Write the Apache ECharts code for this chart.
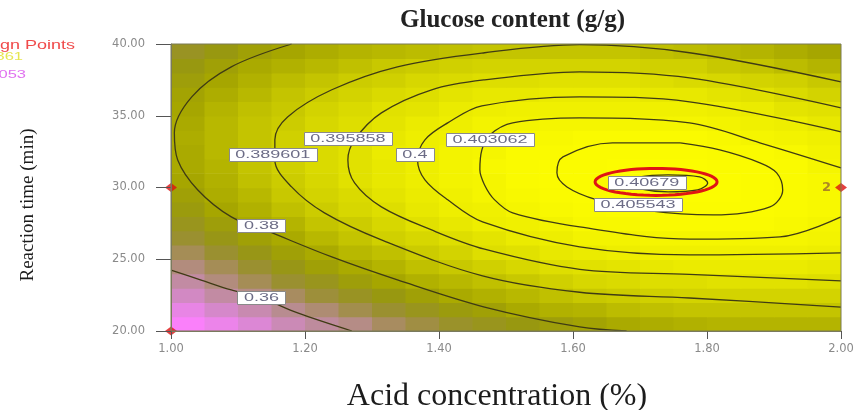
<html>
<head>
<meta charset="utf-8">
<script src="https://cdn.jsdelivr.net/npm/echarts@6/dist/echarts.min.js"></script>
<style>
  html, body { margin: 0; padding: 0; background: #fff; }
</style>
</head>
<body>
<div id="main" style="width: 857px;height:410px;"></div>
<script type="text/javascript">
// cell centres of the response grid
var acidConc = [1.025, 1.075, 1.125, 1.175, 1.225, 1.275, 1.325, 1.375, 1.425, 1.475,
                1.525, 1.575, 1.625, 1.675, 1.725, 1.775, 1.825, 1.875, 1.925, 1.975];
var reactTime = [20.5, 21.5, 22.5, 23.5, 24.5, 25.5, 26.5, 27.5, 28.5, 29.5,
                 30.5, 31.5, 32.5, 33.5, 34.5, 35.5, 36.5, 37.5, 38.5, 39.5];

// glucose content (g/g), one row per reaction time (bottom -> top)
var glucose = [
  [0.340,0.345,0.349,0.354,0.358,0.361,0.365,0.368,0.371,0.373,0.375,0.377,0.379,0.381,0.382,0.383,0.384,0.384,0.384,0.384],
  [0.346,0.351,0.355,0.360,0.363,0.367,0.370,0.373,0.376,0.378,0.381,0.383,0.384,0.386,0.387,0.388,0.388,0.388,0.388,0.388],
  [0.352,0.357,0.361,0.365,0.369,0.372,0.375,0.378,0.381,0.383,0.385,0.387,0.389,0.390,0.391,0.392,0.392,0.392,0.392,0.392],
  [0.357,0.362,0.366,0.370,0.373,0.377,0.380,0.383,0.385,0.387,0.389,0.391,0.393,0.394,0.395,0.395,0.396,0.396,0.396,0.395],
  [0.362,0.366,0.370,0.374,0.378,0.381,0.384,0.387,0.389,0.391,0.393,0.395,0.396,0.397,0.398,0.399,0.399,0.399,0.399,0.398],
  [0.366,0.370,0.374,0.378,0.381,0.385,0.387,0.390,0.392,0.395,0.396,0.398,0.399,0.400,0.401,0.401,0.401,0.401,0.401,0.400],
  [0.370,0.374,0.378,0.381,0.385,0.388,0.391,0.393,0.395,0.397,0.399,0.400,0.402,0.402,0.403,0.403,0.403,0.403,0.403,0.402],
  [0.373,0.377,0.381,0.384,0.388,0.390,0.393,0.396,0.398,0.400,0.401,0.402,0.404,0.404,0.405,0.405,0.405,0.405,0.404,0.403],
  [0.376,0.380,0.383,0.387,0.390,0.393,0.395,0.398,0.400,0.401,0.403,0.404,0.405,0.406,0.406,0.406,0.406,0.406,0.405,0.404],
  [0.378,0.382,0.385,0.389,0.392,0.394,0.397,0.399,0.401,0.403,0.404,0.405,0.406,0.407,0.407,0.407,0.407,0.406,0.405,0.404],
  [0.380,0.383,0.387,0.390,0.393,0.396,0.398,0.400,0.402,0.403,0.405,0.406,0.406,0.407,0.407,0.407,0.407,0.406,0.405,0.404],
  [0.381,0.384,0.388,0.391,0.394,0.396,0.398,0.400,0.402,0.404,0.405,0.406,0.406,0.407,0.407,0.407,0.406,0.406,0.405,0.403],
  [0.381,0.385,0.388,0.391,0.394,0.396,0.399,0.400,0.402,0.403,0.405,0.405,0.406,0.406,0.406,0.406,0.405,0.405,0.404,0.402],
  [0.382,0.385,0.388,0.391,0.394,0.396,0.398,0.400,0.401,0.403,0.404,0.404,0.405,0.405,0.405,0.405,0.404,0.403,0.402,0.401],
  [0.381,0.385,0.388,0.390,0.393,0.395,0.397,0.399,0.400,0.402,0.402,0.403,0.403,0.403,0.403,0.403,0.402,0.401,0.400,0.398],
  [0.380,0.384,0.387,0.389,0.392,0.394,0.396,0.397,0.399,0.400,0.401,0.401,0.401,0.401,0.401,0.401,0.400,0.399,0.397,0.396],
  [0.379,0.382,0.385,0.388,0.390,0.392,0.394,0.395,0.397,0.398,0.398,0.399,0.399,0.399,0.398,0.398,0.397,0.396,0.394,0.392],
  [0.377,0.380,0.383,0.386,0.388,0.390,0.391,0.393,0.394,0.395,0.395,0.396,0.396,0.396,0.395,0.394,0.393,0.392,0.391,0.389],
  [0.375,0.378,0.381,0.383,0.385,0.387,0.389,0.390,0.391,0.392,0.392,0.392,0.392,0.392,0.391,0.391,0.389,0.388,0.386,0.384],
  [0.372,0.375,0.378,0.380,0.382,0.384,0.385,0.386,0.387,0.388,0.388,0.388,0.388,0.388,0.387,0.386,0.385,0.384,0.382,0.380]
];

// contour lines, [acid %, time min]
var c0360 = [[1.0,24.25],[1.045,23.55],[1.09,22.86],[1.135,22.3],[1.189,21.26],[1.27,20.0]];
var c0380 = [[1.18,40.0],[1.09,38.41],[1.031,36.32],[1.005,33.81],[1.01,31.92],[1.04,29.83],[1.09,27.95],
             [1.14,27.04],[1.24,25.16],[1.338,23.56],[1.468,21.67],[1.61,20.28],[1.68,20.0]];
var c0389 = [[2.0,37.36],[1.774,39.39],[1.61,39.95],[1.468,39.39],[1.338,38.41],[1.24,36.81],[1.174,34.92],
             [1.155,33.32],[1.155,31.92],[1.18,30.04],[1.229,28.23],[1.314,26.35],[1.465,23.84],
             [1.61,22.7],[1.774,22.3],[2.0,21.67]];
var c0396 = [[2.0,35.55],[1.774,37.64],[1.61,38.06],[1.468,37.5],[1.389,36.81],[1.314,35.2],[1.274,33.32],
             [1.264,31.92],[1.274,30.32],[1.314,28.65],[1.389,27.04],[1.468,25.7],[1.61,24.3],
             [1.774,23.95],[2.0,23.5]];
var c0400 = [[2.0,33.88],[1.774,35.97],[1.61,36.32],[1.464,35.69],[1.413,34.5],[1.379,33.32],[1.368,31.92],
             [1.379,30.53],[1.413,29.14],[1.465,27.6],[1.61,25.86],[1.774,25.3],[2.0,25.45]];
var c0403 = [[2.0,31.37],[1.88,33.1],[1.774,34.5],[1.61,34.85],[1.51,34.5],[1.476,33.67],[1.464,32.62],
             [1.461,31.23],[1.468,30.18],[1.483,29.14],[1.51,28.23],[1.61,27.25],[1.774,26.4],
             [1.909,26.56],[2.0,27.95]];
var c0405 = [[1.76,33.11],[1.659,33.11],[1.585,32.13],[1.576,31.02],[1.591,30.04],[1.636,29.14],[1.715,28.37],
             [1.809,28.09],[1.894,28.65],[1.913,29.83],[1.904,31.02],[1.879,31.72],[1.819,32.62],[1.76,33.11]];
var c0407 = [[1.682,30.32],[1.700,30.74],[1.742,30.88],[1.789,30.74],[1.801,30.32],[1.786,29.83],
             [1.742,29.69],[1.700,29.90],[1.682,30.32]];
var contours = [c0360, c0380, c0389, c0396, c0400, c0403, c0405, c0407];

// contour labels
var labelTexts = ['0.36', '0.38', '0.389601', '0.395858', '0.4', '0.403062', '0.405543', '0.40679'];
var labelPos = [[1.135,22.30],[1.135,27.32],[1.152,32.27],[1.264,33.39],[1.364,32.27],[1.476,33.32],[1.697,28.79],[1.710,30.32]];

// design points
var designAcid = [1.0, 1.0, 2.0];
var designTime = [30, 20, 30];
var designCount = [1, 1, 2];

// red ring drawn round the optimum: centre x, centre y, radius x, radius y
var optimumRing = [1.724, 30.39, 0.091, 0.94];

var cellW = 0.05, cellH = 1;
var cells = [];
for (var j = 0; j < reactTime.length; j++) {
  for (var k = 0; k < acidConc.length; k++) {
    cells.push([acidConc[k], reactTime[j], glucose[j][k]]);
  }
}

var myChart = echarts.init(document.getElementById('main'));

var series = [{
  type: 'custom',
  clip: true,
  encode: { x: 0, y: 1 },
  data: cells,
  z: 1,
  renderItem: function (params, api) {
    var x = api.value(0), y = api.value(1);
    var p0 = api.coord([x - cellW / 2, y + cellH / 2]);
    var p1 = api.coord([x + cellW / 2, y - cellH / 2]);
    return {
      type: 'rect',
      shape: { x: p0[0], y: p0[1], width: p1[0] - p0[0] + 0.7, height: p1[1] - p0[1] + 0.7 },
      style: { fill: api.visual('color') }
    };
  }
}];

contours.forEach(function (pts) {
  series.push({
    type: 'line',
    data: pts,
    smooth: 0.35,
    symbol: 'none',
    z: 3,
    lineStyle: { color: '#3f3b14', width: 1.3 }
  });
});

series.push({
  type: 'custom',
  encode: { x: 0, y: 1 },
  data: [optimumRing],
  z: 4,
  renderItem: function (params, api) {
    var c = api.coord([api.value(0), api.value(1)]);
    var rx = api.size([api.value(2), 0])[0];
    var ry = api.size([0, api.value(3)])[1];
    var pts = [];
    for (var i = 0; i < 60; i++) {
      var a = i / 60 * Math.PI * 2;
      pts.push([c[0] + rx * Math.cos(a), c[1] + ry * Math.sin(a)]);
    }
    return { type: 'polygon', shape: { points: pts }, style: { fill: 'none', stroke: '#e01414', lineWidth: 3 } };
  }
});

series.push({
  type: 'custom',
  encode: { x: 0, y: 1 },
  data: labelPos,
  z: 5,
  renderItem: function (params, api) {
    var c = api.coord([api.value(0), api.value(1)]);
    var txt = labelTexts[params.dataIndex];
    var w = txt.length * 10 + 8;
    return {
      type: 'group',
      children: [{
        type: 'rect',
        shape: { x: Math.round(c[0] - w / 2) + 0.5, y: Math.round(c[1] - 6.5) + 0.5, width: w, height: 13 },
        style: { fill: '#ffffff', stroke: '#8a8a8a', lineWidth: 1 }
      }, {
        type: 'text',
        x: c[0], y: c[1] + 0.5,
        scaleX: 1.8,
        style: { text: txt, fontSize: 10, fontFamily: 'Liberation Sans', fill: '#6c6c86', align: 'center', verticalAlign: 'middle' }
      }]
    };
  }
});

series.push({
  type: 'scatter',
  clip: false,
  z: 6,
  symbol: 'diamond',
  symbolSize: [12, 9],
  itemStyle: { color: '#dd1111' },
  data: designAcid.map(function (a, i) { return [a, designTime[i], designCount[i]]; }),
  label: {
    show: true,
    position: 'left',
    distance: 4,
    color: '#9a6a2a',
    fontSize: 13,
    fontWeight: 'bold',
    fontFamily: 'DejaVu Sans',
    formatter: function (p) { return p.value[2] > 1 ? String(p.value[2]) : ''; }
  }
});

var option = {
  backgroundColor: '#ffffff',
  animation: false,
  title: {
    text: 'Glucose content (g/g)',
    left: 395,
    top: 3,
    textStyle: { fontFamily: 'Liberation Serif', fontSize: 25, fontWeight: 'bold', color: '#222222' }
  },
  grid: { left: 171, top: 44, width: 670, height: 287, outerBoundsMode: 'none', containLabel: false },
  visualMap: {
    show: false,
    type: 'continuous',
    seriesIndex: 0,
    dimension: 2,
    min: 0.34,
    max: 0.41,
    inRange: { color: ['#fa80fa', '#ec84ea', '#d888d0', '#c88ab0', '#b88c90', '#a88c60', '#9a9030',
                       '#989810', '#a6a600', '#b8b800', '#cccc00', '#dede00', '#eeee00', '#fafa00', '#ffff00'] }
  },
  xAxis: {
    type: 'value',
    min: 1, max: 2, interval: 0.2,
    z: 8,
    name: 'Acid concentration (%)',
    nameLocation: 'middle',
    nameGap: 50,
    nameTextStyle: { fontFamily: 'Liberation Serif', fontSize: 32, color: '#1c1c1c', padding: [0, 18, 0, 0] },
    axisLine: { show: true, lineStyle: { color: '#7a7a68', width: 1 } },
    axisTick: { show: true, length: 8, lineStyle: { color: '#555' } },
    axisLabel: { margin: 12, color: '#8a8a8a', fontFamily: 'DejaVu Sans', fontSize: 11.5,
                 formatter: function (v) { return v.toFixed(2); } },
    splitLine: { show: false }
  },
  yAxis: {
    type: 'value',
    min: 20, max: 40, interval: 5,
    z: 8,
    name: 'Reaction time (min)',
    nameLocation: 'middle',
    nameRotate: 90,
    nameGap: 133,
    nameTextStyle: { fontFamily: 'Liberation Serif', fontSize: 19, color: '#1c1c1c', padding: [0, 35, 0, 0] },
    axisLine: { show: true, lineStyle: { color: '#7a7a68', width: 1 } },
    axisTick: { show: true, length: 15, lineStyle: { color: '#555' } },
    axisLabel: { margin: 26, color: '#8a8a8a', fontFamily: 'DejaVu Sans', fontSize: 11.5,
                 formatter: function (v) { return v.toFixed(2); } },
    splitLine: { show: false }
  },
  graphic: [
    { type: 'rect', z: 9, shape: { x: 171, y: 44, width: 670, height: 287 },
      style: { fill: 'none', stroke: '#7a7a55', lineWidth: 1 } },
    { type: 'text', x: -36, y: 40, scaleX: 1.5,
      style: { text: 'Design Points', fill: '#f04a4a', font: '12px "Liberation Sans"' } },
    { type: 'text', x: 23, y: 51, scaleX: 1.5,
      style: { text: '0.409361', fill: '#e6e650', font: '11px "Liberation Sans"', align: 'right' } },
    { type: 'text', x: 26, y: 69, scaleX: 1.5,
      style: { text: '0.340053', fill: '#e070f0', font: '11px "Liberation Sans"', align: 'right' } }
  ],
  series: series
};

myChart.setOption(option);
</script>
</body>
</html>
